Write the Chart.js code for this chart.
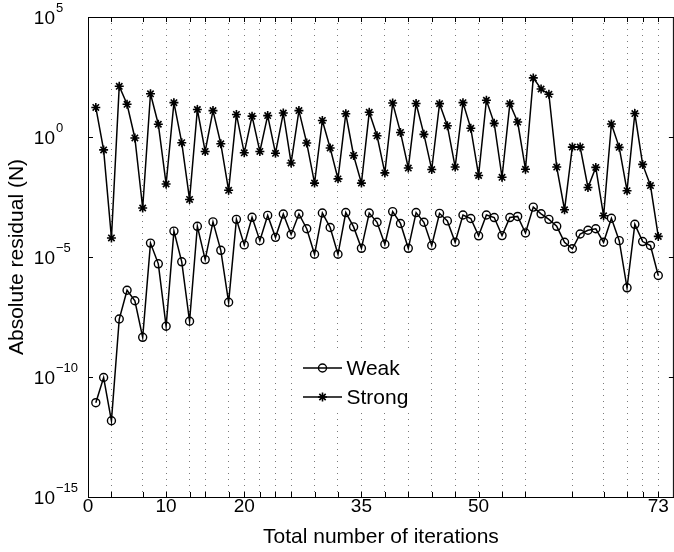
<!DOCTYPE html>
<html><head><meta charset="utf-8">
<script src="https://cdn.jsdelivr.net/npm/chart.js@4.4.1/dist/chart.umd.min.js"></script>
<style>html,body{margin:0;padding:0;overflow:hidden;background:#fff;}canvas{display:block;}</style>
</head><body>
<canvas id="c" width="680" height="552"></canvas>
<script>
// ---- data ----
const iterations = [1,2,3,4,5,6,7,8,9,10,11,12,13,14,15,16,17,18,19,20,21,22,23,24,25,26,27,28,29,30,31,32,33,34,35,36,37,38,39,40,41,42,43,44,45,46,47,48,49,50,51,52,53,54,55,56,57,58,59,60,61,62,63,64,65,66,67,68,69,70,71,72,73];
const weakResidual = [8.5e-12, 9.5e-11, 1.5e-12, 2.6e-8, 4.1e-7, 1.5e-7, 4.5e-9, 3.8e-5, 5.2e-6, 1.3e-8,
  1.2e-4, 6.3e-6, 2.1e-8, 1.9e-4, 7.8e-6, 2.9e-4, 1.9e-5, 1.3e-7, 3.7e-4, 3.2e-5,
  4.5e-4, 4.8e-5, 5.4e-4, 6.6e-5, 6.2e-4, 8.7e-5, 6.2e-4, 1.5e-4, 1.3e-5, 6.8e-4,
  1.7e-4, 1.3e-5, 7.1e-4, 1.8e-4, 2.3e-5, 6.8e-4, 2.8e-4, 3.4e-5, 7.8e-4, 2.5e-4,
  2.3e-5, 7.1e-4, 2.8e-4, 3.0e-5, 6.6e-4, 3.2e-4, 4.1e-5, 5.6e-4, 4.0e-4, 7.6e-5,
  5.6e-4, 4.4e-4, 7.8e-5, 4.4e-4, 4.9e-4, 1.0e-4, 1.2e-3, 6.3e-4, 3.7e-4, 1.9e-4,
  4.1e-5, 2.2e-5, 9.1e-5, 1.3e-4, 1.5e-4, 4.1e-5, 4.1e-4, 4.8e-5, 5.2e-7, 2.3e-4,
  4.4e-5, 3.0e-5, 1.7e-6];
const strongResidual = [17, 0.29, 6.2e-5, 130, 23, 0.91, 1.1e-3, 63, 3.4, 1.1e-2,
  27, 0.58, 2.5e-3, 14, 0.25, 12.6, 0.52, 6.0e-3, 8.7, 0.22,
  7.4, 0.25, 7.8, 0.21, 10, 0.083, 12.6, 0.56, 0.012, 4.9,
  0.35, 0.018, 9.3, 0.17, 0.012, 10.7, 1.12, 0.032, 26, 1.55,
  0.051, 25, 1.29, 0.044, 24.5, 2.95, 0.056, 27, 2.3, 0.025,
  34, 3.7, 0.021, 24.5, 4.2, 0.045, 290, 100, 60, 0.056,
  9.3e-4, 0.38, 0.38, 7.9e-3, 0.054, 5.2e-4, 3.5, 0.37, 5.8e-3, 9.5,
  0.072, 9.5e-3, 7.2e-5];
const seriesNames = ['Weak', 'Strong'];
const xGridTicks = [3,7,10,13,15,18,20,22,24,26,29,32,35,38,41,44,47,50,53,56,62,66,69,71,73];
const xTickLabels = [0,10,20,35,50,73];
const yTickExponents = [5,0,-5,-10,-15];
const xTitle = 'Total number of iterations';
const yTitle = 'Absolute residual (N)';

// ---- chart ----
const FONT = "'Liberation Sans', Arial, Helvetica, sans-serif";
Chart.defaults.font.family = FONT;
Chart.defaults.color = '#000';

function drawMarker(ctx, style, x, y, r) {
  ctx.beginPath();
  if (style === 'circle') {
    ctx.arc(x, y, r, 0, Math.PI * 2);
  } else {
    for (let k = 0; k < 4; k++) {
      const a = k * Math.PI / 4;
      ctx.moveTo(x - r * Math.cos(a), y - r * Math.sin(a));
      ctx.lineTo(x + r * Math.cos(a), y + r * Math.sin(a));
    }
  }
  ctx.stroke();
}

const framePlugin = {
  id: 'frame',
  afterDraw(chart) {
    const {ctx, chartArea: {left, right, top, bottom}, scales: {x, y}} = chart;
    ctx.save();
    ctx.strokeStyle = '#000';
    ctx.lineWidth = 1;
    ctx.beginPath();
    ctx.moveTo(left, top + 0.5); ctx.lineTo(right, top + 0.5);
    ctx.moveTo(right - 0.5, top); ctx.lineTo(right - 0.5, bottom);
    xGridTicks.forEach(v => {
      const px = Math.round(x.getPixelForValue(v)) + 0.5;
      ctx.moveTo(px, bottom); ctx.lineTo(px, bottom - 5);
      ctx.moveTo(px, top); ctx.lineTo(px, top + 5);
    });
    yTickExponents.forEach(e => {
      const py = Math.round(y.getPixelForValue(Math.pow(10, e))) + 0.5;
      ctx.moveTo(left, py); ctx.lineTo(left + 5, py);
      ctx.moveTo(right - 5, py); ctx.lineTo(right, py);
    });
    ctx.stroke();
    // y tick labels with superscript exponents
    ctx.fillStyle = '#000';
    yTickExponents.forEach(e => {
      const py = y.getPixelForValue(Math.pow(10, e));
      ctx.font = '19px ' + FONT;
      ctx.textAlign = 'right'; ctx.textBaseline = 'middle';
      ctx.fillText('10', 55, py + 2);
      ctx.font = '13px ' + FONT;
      ctx.textAlign = 'left';
      ctx.fillText(String(e).replace('-', '\u2212'), 56, py - 9);
    });
    // legend
    ctx.fillStyle = '#fff';
    ctx.fillRect(299, 353, 118, 58);
    const rows = [368, 397];
    chart.data.datasets.forEach((ds, i) => {
      const ry = rows[i];
      ctx.strokeStyle = '#000';
      ctx.lineWidth = ds.borderWidth;
      ctx.beginPath(); ctx.moveTo(303, ry); ctx.lineTo(342, ry); ctx.stroke();
      ctx.lineWidth = ds.pointBorderWidth;
      drawMarker(ctx, ds.pointStyle, 322.5, ry, ds.pointRadius);
      ctx.fillStyle = '#000';
      ctx.font = '21px ' + FONT;
      ctx.textAlign = 'left'; ctx.textBaseline = 'middle';
      ctx.fillText(ds.label, 346.5, ry + 1);
    });
    ctx.restore();
  }
};

new Chart(document.getElementById('c'), {
  type: 'line',
  data: {
    datasets: [
      {
        label: seriesNames[0],
        data: iterations.map((it, i) => ({x: it, y: weakResidual[i]})),
        borderColor: '#000', borderWidth: 1.5,
        pointStyle: 'circle', pointRadius: 4, pointBorderWidth: 1.4,
        pointBorderColor: '#000', pointBackgroundColor: 'rgba(0,0,0,0)',
        tension: 0, fill: false
      },
      {
        label: seriesNames[1],
        data: iterations.map((it, i) => ({x: it, y: strongResidual[i]})),
        borderColor: '#000', borderWidth: 1.5,
        pointStyle: 'star', pointRadius: 4.5, pointBorderWidth: 1.6,
        pointBorderColor: '#000', pointBackgroundColor: '#000',
        tension: 0, fill: false
      }
    ]
  },
  options: {
    responsive: false,
    animation: false,
    events: [],
    layout: {padding: {top: 17, right: 5, left: 0, bottom: 0}},
    plugins: {legend: {display: false}, tooltip: {enabled: false}},
    scales: {
      x: {
        type: 'linear', min: 0, max: 75,
        afterBuildTicks: s => { s.ticks = [0].concat(xGridTicks).map(v => ({value: v})); },
        afterFit: s => { s.height = 55; },
        ticks: {
          autoSkip: false, maxRotation: 0, minRotation: 0, padding: 0, color: '#000',
          font: {size: 19, lineHeight: 1},
          callback: v => xTickLabels.includes(v) ? String(v) : ''
        },
        grid: {
          drawTicks: false, lineWidth: 1,
          color: c => (c.tick && c.tick.value === 0) ? 'rgba(0,0,0,0)' : '#7a7a7a'
        },
        border: {display: true, color: '#000', width: 1, dash: [1, 5]},
        title: {display: true, text: xTitle, color: '#000', font: {size: 21}, padding: {top: 0, bottom: 2}}
      },
      y: {
        type: 'logarithmic', min: 1e-15, max: 1e5,
        afterFit: s => { s.width = 88; },
        ticks: {display: false},
        grid: {display: false, drawTicks: false},
        border: {display: true, color: '#000', width: 1},
        title: {display: true, text: yTitle, color: '#000', font: {size: 21}, padding: {top: 5, bottom: 0}}
      }
    }
  },
  plugins: [framePlugin]
});
</script>
</body></html>
